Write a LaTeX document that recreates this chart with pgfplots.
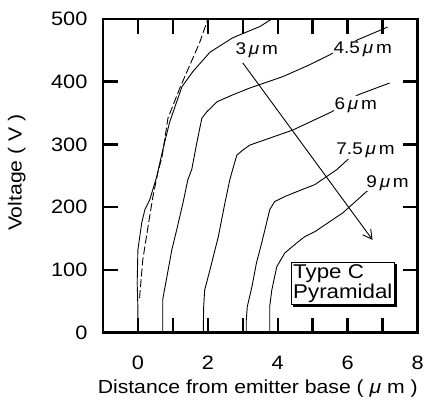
\documentclass[border=0pt]{standalone}
\usepackage{fontspec}
\setmainfont{Liberation Sans}[FakeStretch=1.12]
\usepackage{pgfplots}
\pgfplotsset{compat=1.18}
\usetikzlibrary{arrows.meta}

\newcommand{\um}{\,\textit{μ}\,m}

\begin{document}
\begin{tikzpicture}
\begin{axis}[
  scale only axis, width=315bp, height=314bp,
  xmin=-1, xmax=8, ymin=0, ymax=500,
  xtick={0,2,4,6,8}, minor xtick={1,3,5,7},
  ytick={0,100,200,300,400,500},
  tickwidth=15bp, subtickwidth=15bp,
  every axis/.append style={line width=2.5bp},
  every tick/.append style={black, line width=2.5bp},
  every minor tick/.append style={black, line width=2.5bp},
  /pgf/number format/assume math mode=true,
  tick label style={font=\fontsize{19.5}{20}\selectfont},
  xticklabel style={yshift=-19bp},
  yticklabel style={xshift=-11bp},
  label style={font=\fontsize{19}{20}\selectfont},
  xlabel={Distance from emitter base (\ \textit{μ} m )},
  ylabel={Voltage ( V )},
  xlabel style={at={(axis description cs:0.492,-0.193)}, anchor=base},
  ylabel style={at={(axis description cs:-0.258,0.51)}, anchor=base},
  curve/.style={line width=0.9bp, black, no markers},
]
% dashed reference curve
\addplot[curve, dash pattern=on 8bp off 3bp] coordinates {
 (0.05,55) (0.06,64) (0.14,116) (0.29,169) (0.43,217) (0.57,255) (0.69,280)
 (0.86,342) (1.2,390) (1.49,427) (1.77,463) (1.97,495) (2.0,500)};
% 3 um
\addplot[curve] coordinates {
 (0,0) (0,40) (-0.02,79) (0,132) (0.11,175) (0.2,196) (0.34,212) (0.54,249)
 (0.71,291) (0.91,336) (1.26,392) (1.57,416) (2.06,447) (2.71,470) (3.49,488) (3.83,500)};
% 4.5 um
\addplot[curve] coordinates {
 (0.71,0) (0.71,53) (0.83,89) (0.97,132) (1.11,164) (1.29,207) (1.43,244)
 (1.54,260) (1.69,304) (1.83,342) (1.97,352) (2.26,368) (2.71,379) (3.2,390)
 (4.14,408) (4.91,427) (5.49,443) (6.29,467) (7.14,487)};
% 6 um
\addplot[curve] coordinates {
 (1.87,0) (1.88,40) (1.91,68) (2.06,100) (2.3,153) (2.49,207) (2.63,244)
 (2.71,260) (2.83,283) (3.0,291) (3.2,299) (4.43,323) (5.54,352) (6.29,379) (7.2,398)};
% 7.5 um
\addplot[curve] coordinates {
 (3.1,0) (3.1,20) (3.13,42) (3.26,73) (3.39,111) (3.54,143) (3.68,175) (3.77,196)
 (3.91,209) (4.2,217) (4.69,228) (5.06,236) (5.69,260) (6.06,279) (7.2,303)};
% 9 um
\addplot[curve] coordinates {
 (3.77,0) (3.77,42) (3.83,68) (3.97,105) (4.2,127) (4.54,143) (4.77,153)
 (5.06,161) (5.86,191) (6.54,225) (6.8,238)};
% arrow
\addplot[curve, -{Straight Barb[length=9bp,width=10bp]}] coordinates {(3.0,430) (6.71,148)};

\node[fill=white, inner sep=1bp, font=\fontsize{17}{18}\selectfont] at (axis cs:3.4,451) {3\um};
\node[fill=white, inner sep=1bp, font=\fontsize{17}{18}\selectfont] at (axis cs:6.43,451) {4.5\um};
\node[fill=white, inner sep=1bp, font=\fontsize{17}{18}\selectfont] at (axis cs:6.23,363) {6\um};
\node[fill=white, inner sep=1bp, font=\fontsize{17}{18}\selectfont] at (axis cs:6.51,291) {7.5\um};
\node[fill=white, inner sep=1bp, font=\fontsize{17}{18}\selectfont] at (axis cs:7.14,239) {9\um};

\node[preaction={draw=black, fill=black, line width=1bp, transform canvas={shift={(2bp,-2bp)}}},
      draw, line width=1bp, fill=white, align=left, inner sep=2bp,
      font=\fontsize{20}{20.5}\selectfont] at (axis cs:5.86,78)
      {Type C\\Pyramidal};
\end{axis}
\path ([shift={(-103bp,-65bp)}]current axis.south west) rectangle ([shift={(9bp,19bp)}]current axis.north east);
\end{tikzpicture}
\end{document}
